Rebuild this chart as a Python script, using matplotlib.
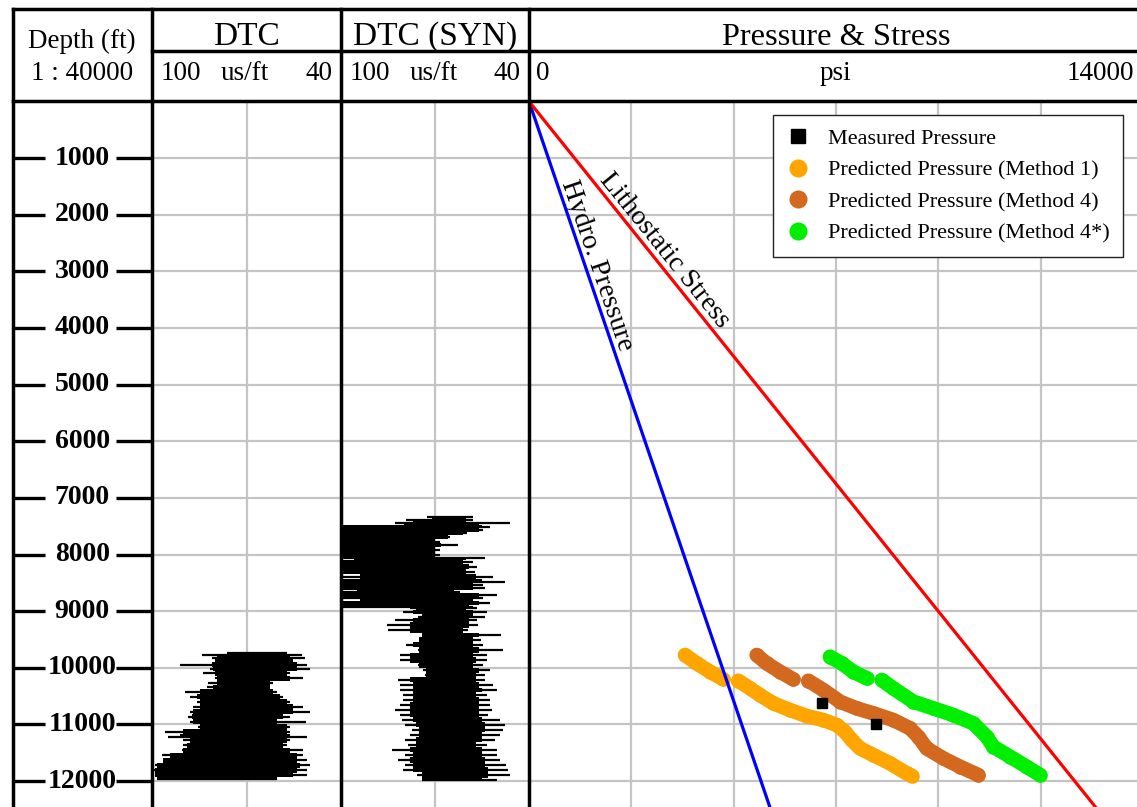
import matplotlib.pyplot as plt
import numpy as np
from matplotlib.lines import Line2D
from matplotlib.transforms import blended_transform_factory

plt.rcParams['font.family'] = ['Liberation Serif', 'DejaVu Serif']

# ---------------- data ----------------
# DTC log (us/ft): depth, outer spike extent (left/right), solid core (left/right)
dtc_depth = [9733, 9774, 9833, 9951, 10027, 10097, 10186, 10263, 10333, 10422,
             10510, 10598, 10687, 10775, 10863, 10952, 11040, 11128, 11216, 11275,
             11363, 11452, 11540, 11628, 11716, 11805, 11893, 11969]
dtc_spike_l = [76.3, 84.2, 81.1, 91.1, 81.6, 83.7, 80.0, 82.1, 82.6, 89.5,
               87.9, 85.8, 86.9, 87.9, 88.5, 87.9, 85.3, 95.9, 94.8, 90.1,
               90.1, 90.6, 96.9, 95.9, 99.0, 99.6, 99.0, 98.5]
dtc_spike_r = [57.2, 52.5, 51.4, 50.9, 49.8, 56.2, 52.0, 61.5, 62.5, 60.4,
               58.3, 56.2, 52.0, 49.8, 56.2, 51.0, 56.2, 56.2, 50.9, 56.2,
               57.2, 52.0, 52.0, 50.9, 49.8, 50.9, 50.9, 60.4]
dtc_core_l = [76.3, 79.5, 80.0, 81.1, 80.5, 80.0, 79.5, 79.5, 80.5, 84.8,
              85.8, 84.8, 84.8, 86.9, 87.4, 86.9, 84.8, 90.1, 91.1, 87.9,
              89.0, 90.1, 94.3, 96.4, 98.5, 99.0, 99.0, 98.5]
dtc_core_r = [57.2, 56.2, 55.1, 54.1, 54.1, 57.2, 56.2, 62.5, 62.5, 61.5,
              59.4, 57.2, 55.1, 55.1, 58.3, 60.4, 57.2, 57.2, 56.2, 57.2,
              58.3, 56.2, 54.1, 54.1, 53.0, 54.1, 55.1, 60.4]

# DTC (SYN) log (us/ft)
syn_depth = [7343, 7390, 7449, 7508, 7567, 7626, 7685, 7773, 7832, 7920,
             8008, 8067, 8126, 8214, 8303, 8391, 8479, 8538, 8597, 8656,
             8715, 8774, 8862, 8921, 8950, 9009, 9097, 9156, 9244, 9333,
             9421, 9509, 9597, 9686, 9774, 9862, 9951, 10039, 10127, 10215,
             10304, 10392, 10480, 10568, 10657, 10745, 10833, 10921, 11010, 11098,
             11186, 11274, 11363, 11451, 11539, 11628, 11716, 11804, 11893, 11981]
syn_spike_l = [72.7, 79.1, 82.8, 110, 110, 110, 110, 110, 110, 110,
               110, 110, 110, 110, 110, 110, 110, 110, 110, 110,
               110, 110, 110, 110, 78.0, 80.1, 75.3, 82.8, 85.4, 84.9,
               74.3, 74.8, 79.1, 75.3, 81.2, 81.2, 75.3, 73.7, 73.2, 81.7,
               81.2, 81.2, 80.1, 80.1, 81.2, 82.8, 81.2, 80.6, 79.6, 77.4,
               78.0, 79.6, 78.5, 83.8, 79.6, 81.7, 79.6, 80.1, 75.9, 74.3]
syn_spike_r = [57.8, 57.8, 46.1, 52.5, 54.6, 59.9, 65.2, 68.4, 62.6, 68.4,
               68.4, 54.1, 57.8, 56.7, 57.2, 51.4, 47.7, 54.6, 54.1, 62.0,
               50.3, 54.6, 52.5, 57.8, 56.7, 53.5, 54.1, 56.7, 56.2, 59.4,
               48.8, 55.2, 54.6, 48.2, 53.5, 53.5, 54.6, 52.5, 54.1, 54.1,
               51.4, 50.3, 53.5, 52.5, 52.5, 51.9, 53.0, 49.3, 47.7, 48.2,
               49.3, 50.9, 53.5, 50.3, 50.3, 49.3, 47.2, 46.6, 46.1, 50.3]
syn_core_l = [71, 77, 80, 110, 110, 110, 110, 110, 110, 110,
              110, 96, 110, 110, 110, 94, 110, 110, 110, 95,
              110, 94, 110, 110, 76, 77, 74, 77, 78, 78,
              74, 75, 77, 75, 78, 78, 75, 73, 73, 78,
              77, 77, 77, 77, 78, 78, 78, 77, 76, 75,
              75, 76, 76, 78, 77, 78, 77, 77, 74, 74]
syn_core_r = [60, 60, 56, 55, 56, 61, 66, 70, 68, 70,
              70, 60, 61, 59, 60, 57, 55, 58, 58, 64,
              56, 58, 56, 59, 60, 58, 58, 59, 59, 61,
              56, 58, 58, 56, 58, 57, 58, 56, 57, 57,
              56, 55, 57, 56, 56, 56, 56, 55, 54, 54,
              55, 55, 57, 55, 55, 54, 54, 53, 53, 55]

# pressure / stress trends (psi vs ft)
trend_depth = [0, 12500]
hydro_psi = [0, 5510]
litho_psi = [0, 12960]

# measured pressure
meas_depth = [10616, 10999]
meas_psi = [6673, 7912]

# predicted pressure bands (NaN = gap in data)
m1_depth = [9774, 9922, 10069, 10204, np.nan, 10228, 10363, 10481, 10628, 10745,
            10851, 10922, 11010, 11128, 11275, 11422, 11540, 11687, 11864, 11905]
m1_psi = [3557, 3823, 4127, 4431, np.nan, 4773, 5039, 5267, 5571, 5951,
          6331, 6711, 7015, 7205, 7357, 7547, 7851, 8231, 8612, 8726]
m4_depth = [9774, 9922, 10069, 10204, np.nan, 10228, 10392, 10598, 10716, 10804,
            10922, 11069, 11216, 11422, 11599, 11746, 11893]
m4_psi = [5191, 5419, 5723, 6027, np.nan, 6369, 6711, 7091, 7471, 7851,
          8307, 8687, 8877, 9067, 9447, 9827, 10245]
m4s_depth = [9804, 9922, 10069, 10186, np.nan, 10216, 10363, 10598, 10716, 10834,
             10981, 11216, 11393, 11569, 11746, 11893]
m4s_psi = [6863, 7129, 7395, 7699, np.nan, 8041, 8307, 8763, 9219, 9675,
           10131, 10435, 10587, 10967, 11347, 11651]

depth_ticks = list(range(1000, 13000, 1000))

# ---------------- layout ----------------
W, H = 1137, 807
fig = plt.figure(figsize=(W / 100, H / 100), dpi=100)

TOP, BOT = 101.4, 809.4      # pixel rows of depth 0 and depth 12500


def track(x0, x1):
    ax = fig.add_axes([x0 / W, 1 - BOT / H, (x1 - x0) / W, (BOT - TOP) / H])
    ax.set_ylim(12500, 0)
    for s in ax.spines.values():
        s.set_visible(False)
    ax.tick_params(left=False, bottom=False, labelleft=False, labelbottom=False)
    ax.set_yticks(depth_ticks)
    return ax


grid_kw = dict(color='#c4c4c4', lw=1.6)

# depth track
ax_d = track(12.5, 152)
ax_d.set_xlim(0, 1)
tr = blended_transform_factory(ax_d.transAxes, ax_d.transData)
for d in depth_ticks:
    ax_d.plot([0, 0.235], [d, d], color='k', lw=2.4, transform=tr, solid_capstyle='butt')
    ax_d.plot([0.74, 1], [d, d], color='k', lw=2.4, transform=tr, solid_capstyle='butt')
    ax_d.text(0.5, d, str(d), transform=tr, ha='center', va='center',
              fontsize=20, fontweight='bold')


def log_track(ax, depth, sp_l, sp_r, co_l, co_r):
    ax.set_xlim(100, 40)
    ax.set_xticks([70])
    ax.grid(True, **grid_kw)
    ax.set_axisbelow(True)
    ax.fill_betweenx(depth, co_l, co_r, step='mid', color='k', lw=0)
    ax.hlines(depth, sp_l, sp_r, color='k', lw=1.6)


ax_dtc = track(152, 341)
log_track(ax_dtc, dtc_depth, dtc_spike_l, dtc_spike_r, dtc_core_l, dtc_core_r)

ax_syn = track(341, 529)
log_track(ax_syn, syn_depth, syn_spike_l, syn_spike_r, syn_core_l, syn_core_r)

# Pressure & Stress track
ax_p = track(529, 1143)
ax_p.set_xlim(0, 14000)
ax_p.set_xticks(np.linspace(0, 14000, 7))
ax_p.grid(True, **grid_kw)
ax_p.set_axisbelow(True)

ax_p.plot(hydro_psi, trend_depth, color='#0000ff', lw=2.3, zorder=5)
ax_p.plot(litho_psi, trend_depth, color='#ff0000', lw=2.3, zorder=5)

band_kw = dict(lw=10.5, solid_capstyle='round', solid_joinstyle='round', zorder=3)
for dep, psi, col in [(m1_depth, m1_psi, '#ffa500'),
                      (m4_depth, m4_psi, '#d2691e'),
                      (m4s_depth, m4s_psi, '#00ee00')]:
    ax_p.plot(psi, dep, color=col, marker='o', ms=10.5, mec='none', **band_kw)

ax_p.plot(meas_psi, meas_depth, 's', color='k', ms=7, zorder=6)

ax_p.text(3078, 2636, 'Lithostatic Stress', rotation=-51, rotation_mode='anchor',
          ha='center', va='center', fontsize=20)
ax_p.text(1557, 2901, 'Hydro. Pressure', rotation=-71.1, rotation_mode='anchor',
          ha='center', va='center', fontsize=20)

handles = [
    Line2D([], [], marker='s', ls='none', color='k', ms=10),
    Line2D([], [], marker='o', ls='none', color='#ffa500', ms=12),
    Line2D([], [], marker='o', ls='none', color='#d2691e', ms=12),
    Line2D([], [], marker='o', ls='none', color='#00ee00', ms=12),
]
labels = ['Measured Pressure', 'Predicted Pressure (Method 1)',
          'Predicted Pressure (Method 4)', 'Predicted Pressure (Method 4*)']
leg = fig.legend(handles, labels, loc='upper right',
                 bbox_to_anchor=(1123 / W, 1 - 115 / H), bbox_transform=fig.transFigure,
                 fontsize=16, frameon=True, fancybox=False, framealpha=1,
                 edgecolor='#222222', borderpad=0.6, labelspacing=0.5,
                 handlelength=1.0, handletextpad=0.85, borderaxespad=0)
leg.get_frame().set_linewidth(1.0)
leg.set_zorder(20)

# header / frame overlay in pixel coordinates
ov = fig.add_axes([0, 0, 1, 1], facecolor='none')
ov.set_xlim(0, W)
ov.set_ylim(H, 0)
ov.axis('off')
ov.set_zorder(10)

line_kw = dict(color='k', lw=2.5, solid_capstyle='projecting', clip_on=False)
ov.plot([12.5, W + 5], [8.5, 8.5], **line_kw)
ov.plot([152, W + 5], [51, 51], **line_kw)
ov.plot([12.5, W + 5], [101, 101], **line_kw)
for x in [12.5, 152, 341, 529]:
    ov.plot([x, x], [8.5, H + 5], **line_kw)

ov.text(82, 48, 'Depth (ft)', ha='center', va='baseline', fontsize=19.5)
ov.text(82, 79.5, '1 : 40000', ha='center', va='baseline', fontsize=19.5)

ov.text(246, 45, 'DTC', ha='center', va='baseline', fontsize=24)
ov.text(435, 45, 'DTC (SYN)', ha='center', va='baseline', fontsize=24)
ov.text(836, 45, 'Pressure & Stress', ha='center', va='baseline', fontsize=23.3)

for x_l, x_c, x_r in [(161, 245, 332), (350, 434, 521)]:
    ov.text(x_l, 79.5, '100', ha='left', va='baseline', fontsize=19.5)
    ov.text(x_c, 79.5, 'us/ft', ha='center', va='baseline', fontsize=19.5)
    ov.text(x_r, 79.5, '40', ha='right', va='baseline', fontsize=19.5)
ov.text(536, 79.5, '0', ha='left', va='baseline', fontsize=19.5)
ov.text(835, 79.5, 'psi', ha='center', va='baseline', fontsize=19.5)
ov.text(1134, 79.5, '14000', ha='right', va='baseline', fontsize=19.5)

fig.savefig('out.png', dpi=100)
